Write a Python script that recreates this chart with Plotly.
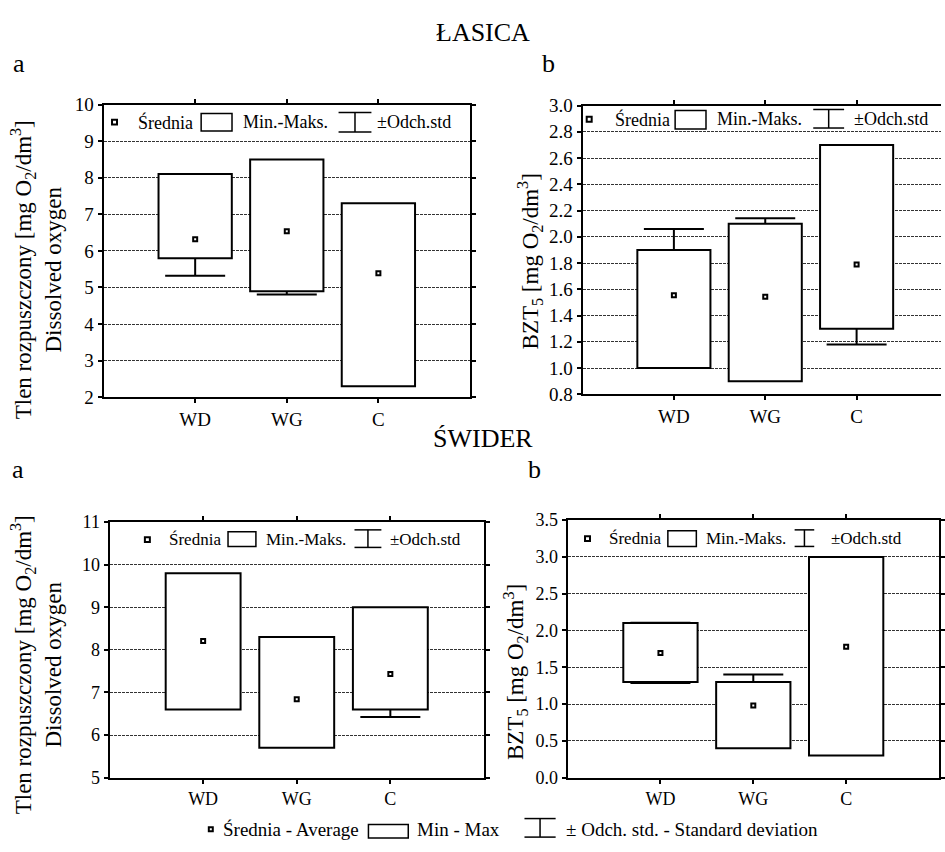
import plotly.graph_objects as go

W, H = 945, 852
FONT = "Liberation Serif"

categories = ["WD", "WG", "C"]

# ŁASICA a - dissolved oxygen [mg O2/dm3]
lasica_o2_min = [5.8, 4.9, 2.3]
lasica_o2_max = [8.1, 8.5, 7.3]
lasica_o2_mean = [6.32, 6.54, 5.39]
lasica_o2_std = [1.0, 1.73, 1.6]

# ŁASICA b - BZT5 [mg O2/dm3]
lasica_bzt_min = [1.0, 0.9, 1.3]
lasica_bzt_max = [1.9, 2.1, 2.7]
lasica_bzt_mean = [1.555, 1.543, 1.789]
lasica_bzt_std = [0.504, 0.598, 0.609]

# ŚWIDER a - dissolved oxygen
swider_o2_min = [6.6, 5.7, 6.6]
swider_o2_max = [9.8, 8.3, 9.0]
swider_o2_mean = [8.21, 6.84, 7.43]
swider_o2_std = [1.2, 0.9, 1.01]

# ŚWIDER b - BZT5
swider_bzt_min = [1.3, 0.4, 0.3]
swider_bzt_max = [2.1, 1.3, 3.0]
swider_bzt_mean = [1.695, 0.98, 1.78]
swider_bzt_std = [0.41, 0.42, 1.0]


def px(x):
    return x / W


def py(y):
    return 1 - y / H


panels = [
    dict(n="", data=(lasica_o2_min, lasica_o2_max, lasica_o2_mean, lasica_o2_std),
         xd=(104, 472), yd=(97, 397), yr=(2, 10), dt=1, fmt="d", fs=19, ymirror=True,
         xr=(-1, 3)),
    dict(n="2", data=(lasica_bzt_min, lasica_bzt_max, lasica_bzt_mean, lasica_bzt_std),
         xd=(585, 945), yd=(98, 394), yr=(0.8, 3.0), dt=0.2, fmt=".1f", fs=19, ymirror=False,
         xr=(-1, -1 + (945 - 585) / 91.75)),
    dict(n="3", data=(swider_o2_min, swider_o2_max, swider_o2_mean, swider_o2_std),
         xd=(110, 486), yd=(525, 787), yr=(5, 11), dt=1, fmt="d", fs=18, ymirror=True,
         xr=(-1, 3)),
    dict(n="4", data=(swider_bzt_min, swider_bzt_max, swider_bzt_mean, swider_bzt_std),
         xd=(570, 943), yd=(523, 787), yr=(0, 3.5), dt=0.5, fmt=".1f", fs=18, ymirror=True,
         xr=(-1, 3)),
]

fig = go.Figure()
layout = {}
for p in panels:
    n = p["n"]
    xa, ya = "x" + n, "y" + n
    mn, mx, mean, std = p["data"]
    # whiskers (drawn first, covered by the box)
    fig.add_trace(go.Bar(
        x=categories, y=mean, width=0.8, xaxis=xa, yaxis=ya,
        marker=dict(color="rgba(0,0,0,0)", line=dict(width=0)),
        error_y=dict(type="data", array=std, visible=True, color="black",
                     thickness=2, width=30),
        showlegend=False, hoverinfo="skip"))
    # min-max box
    fig.add_trace(go.Bar(
        x=categories, y=[b - a for a, b in zip(mn, mx)], base=mn, width=0.8,
        xaxis=xa, yaxis=ya,
        marker=dict(color="white", line=dict(color="black", width=2)),
        showlegend=False, hoverinfo="skip"))
    # mean
    fig.add_trace(go.Scatter(
        x=categories, y=mean, mode="markers", xaxis=xa, yaxis=ya,
        marker=dict(symbol="square", size=4, color="white",
                    line=dict(color="black", width=2)),
        showlegend=False, hoverinfo="skip"))
    axis_common = dict(showline=True, linecolor="black", linewidth=2,
                       ticks="outside", ticklen=4, tickwidth=1.5, tickcolor="black",
                       zeroline=False, fixedrange=True,
                       tickfont=dict(family=FONT, size=p["fs"], color="black"))
    layout["xaxis" + n] = dict(
        domain=[px(p["xd"][0]), px(p["xd"][1])], anchor=ya, type="category",
        range=list(p["xr"]), showgrid=False, mirror="ticks", **axis_common)
    layout["yaxis" + n] = dict(
        domain=[py(p["yd"][1]), py(p["yd"][0])], anchor=xa,
        range=list(p["yr"]), dtick=p["dt"], tick0=0, tickformat=p["fmt"],
        showgrid=True, gridcolor="#333", gridwidth=1, griddash="3px,1px",
        mirror="ticks" if p["ymirror"] else False, **axis_common)

annotations = []
shapes = []


def text(x, y, s, size, xanchor="center", angle=0, yanchor="middle"):
    annotations.append(dict(x=px(x), y=py(y), xref="paper", yref="paper", text=s,
                            showarrow=False, xanchor=xanchor, yanchor=yanchor,
                            textangle=angle,
                            font=dict(family=FONT, size=size, color="black")))


# titles and panel letters
text(485, 23, "ŁASICA", 26)
text(485, 439, "ŚWIDER", 26)
text(19, 55, "a", 26)
text(551, 55, "b", 26)
text(18.5, 471, "a", 26)
text(537, 471, "b", 26)

# axis titles
o2_title = "Tlen rozpuszczony [mg O<sub>2</sub>/dm<sup>3</sup>]<br>Dissolved oxygen"
bzt_title = "BZT<sub>5</sub> [mg O<sub>2</sub>/dm<sup>3</sup>]"
text(37, 266, o2_title, 23, angle=-90)
text(37, 671, o2_title, 23, angle=-90)
text(532, 258, bzt_title, 23, angle=-90)
text(517, 679, bzt_title, 23, angle=-90)


def marker_icon(cx, cy, s=5):
    shapes.append(dict(type="rect", xref="paper", yref="paper",
                       x0=px(cx - s / 2), x1=px(cx + s / 2), y0=py(cy + s / 2), y1=py(cy - s / 2),
                       line=dict(color="black", width=2), fillcolor="white"))


def box_icon(x0, x1, y0, y1):
    shapes.append(dict(type="rect", xref="paper", yref="paper",
                       x0=px(x0), x1=px(x1), y0=py(y1), y1=py(y0),
                       line=dict(color="black", width=1.5), fillcolor="white"))


def whisker_icon(x0, x1, y0, y1):
    xm = (x0 + x1) / 2
    for (a, b, c, d) in [(x0, y0, x1, y0), (x0, y1, x1, y1), (xm, y0, xm, y1)]:
        shapes.append(dict(type="line", xref="paper", yref="paper",
                           x0=px(a), y0=py(b), x1=px(c), y1=py(d),
                           line=dict(color="black", width=1.5)))


legend_items = ["Średnia", "Min.-Maks.", "±Odch.std"]
# (row y, marker x, text1 x, box x0,x1, box y0,y1, text2 x, whisker x0,x1, whisker y0,y1, text3 x, font)
legend_rows = [
    (115, 115, 137, 202, 233, 106, 124, 242, 340, 373, 105, 125, 377, 18),
    (112, 591.7, 615.7, 678, 709, 103, 122, 718, 816.7, 847.7, 102, 121, 855.7, 18),
    (543, 148, 168, 229, 257, 535, 550, 265, 356, 383, 533, 551, 390, 17),
    (542, 590, 610, 670.7, 699.3, 534, 550, 707, 798, 817.7, 533, 550, 833, 17),
]
for (ry, mx_, t1, bx0, bx1, by0, by1, t2, wx0, wx1, wy0, wy1, t3, fs) in legend_rows:
    marker_icon(mx_, ry)
    text(t1, ry, legend_items[0], fs, xanchor="left")
    box_icon(bx0, bx1, by0, by1)
    text(t2, ry, legend_items[1], fs, xanchor="left")
    whisker_icon(wx0, wx1, wy0, wy1)
    text(t3, ry, legend_items[2], fs, xanchor="left")

# bottom caption legend
bottom_items = ["Średnia - Average", "Min - Max", "± Odch. std. - Standard deviation"]
marker_icon(211.7, 840, 4)
text(221.7, 840, bottom_items[0], 19, xanchor="left")
box_icon(370, 410, 835, 849)
text(417, 840, bottom_items[1], 19, xanchor="left")
whisker_icon(526.7, 558, 829, 848)
text(566.7, 840, bottom_items[2], 19, xanchor="left")

fig.update_layout(
    width=W, height=H, autosize=False,
    margin=dict(l=0, r=0, t=0, b=0, pad=0),
    paper_bgcolor="white", plot_bgcolor="white",
    barmode="overlay", showlegend=False,
    font=dict(family=FONT, color="black"),
    annotations=annotations, shapes=shapes,
    **layout,
)

fig.write_html("out.html", post_script="document.body.style.margin='0';",
               config={"displayModeBar": False})
